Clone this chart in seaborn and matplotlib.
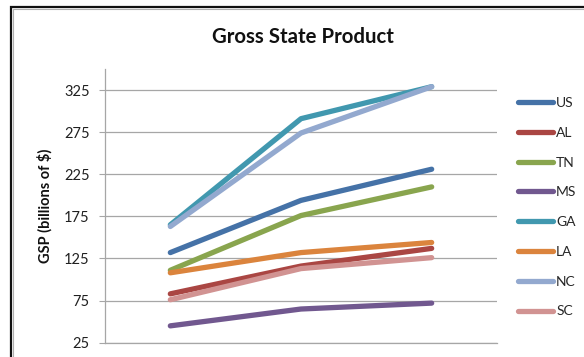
import matplotlib
matplotlib.use("Agg")
import matplotlib.pyplot as plt
from matplotlib.patches import Rectangle
import seaborn as sns
import pandas as pd

# Gross state product, billions of dollars, three reporting periods
periods = [0, 1, 2]
states = ["US", "AL", "TN", "MS", "GA", "LA", "NC", "SC"]
us = [132, 194, 231]
al = [83, 116, 137]
tn = [111, 176, 210]
ms = [45, 65, 72]
ga = [165, 291, 329]
la = [108, 132, 144]
nc = [163, 274, 329]
sc = [76, 113, 126]
yticks = [25, 75, 125, 175, 225, 275, 325]

colors = ["#4572A7", "#AA4643", "#89A54E", "#71588F",
          "#4198AF", "#DB843D", "#93A9CF", "#D19392"]

series = dict(zip(states, [us, al, tn, ms, ga, la, nc, sc]))
df = pd.DataFrame(
    [(s, p, v) for s in states for p, v in zip(periods, series[s])],
    columns=["State", "Period", "GSP"],
)

sns.set_theme(style="white")
plt.rcParams["font.family"] = ["Lato", "DejaVu Sans"]

W, H = 584, 357
fig = plt.figure(figsize=(W / 100, H / 100), dpi=100)
ax = fig.add_axes([105 / W, 1 - 342.7 / H, (497 - 105) / W, (342.7 - 69) / H])

sns.lineplot(
    data=df, x="Period", y="GSP", hue="State", hue_order=states,
    palette=colors, linewidth=3.8, ax=ax, legend=False,
    solid_capstyle="round",
)

ax.set_xlim(-0.5, 2.5)
ax.set_ylim(25, 350)
ax.set_yticks(yticks)
ax.set_yticklabels([str(t) for t in yticks], fontsize=10.5, color="#202020")
ax.set_xticks([])
ax.set_xlabel("")
ax.set_ylabel("GSP (billions of $)", fontsize=10.5, fontweight="bold",
              color="#111111", labelpad=8)
ax.grid(axis="y", color="#a6a6a6", linewidth=0.9)
ax.tick_params(axis="y", which="major", direction="out", length=4,
               width=0.8, color="#a6a6a6", pad=7, left=True)
for side in ["top", "right"]:
    ax.spines[side].set_visible(False)
for side in ["left", "bottom"]:
    ax.spines[side].set_color("#a6a6a6")
    ax.spines[side].set_linewidth(0.9)

fig.text(303 / W, 1 - 37 / H, "Gross State Product", ha="center", va="center",
         fontsize=14.7, fontweight="bold", color="#111111")

handles = [plt.Line2D([], [], color=c, linewidth=3.8, solid_capstyle="round")
           for c in colors]
fig.legend(handles, states, loc="upper left",
           bbox_to_anchor=(518 / W, 1 - 97 / H), frameon=False,
           fontsize=10, handlelength=2.55, handletextpad=0.2,
           labelspacing=1.28, borderaxespad=0, borderpad=0)

# chart frame
fig.add_artist(Rectangle((11 / W, -0.2), 1.2, 1 - 7.5 / H + 0.2,
                         transform=fig.transFigure, fill=False,
                         edgecolor="#111111", linewidth=1.6))
fig.add_artist(Rectangle((13 / W, -0.2), 1.2, 1 - 9.5 / H + 0.2,
                         transform=fig.transFigure, fill=False,
                         edgecolor="#b0b0b0", linewidth=0.8))

fig.savefig("out.png", dpi=100)
